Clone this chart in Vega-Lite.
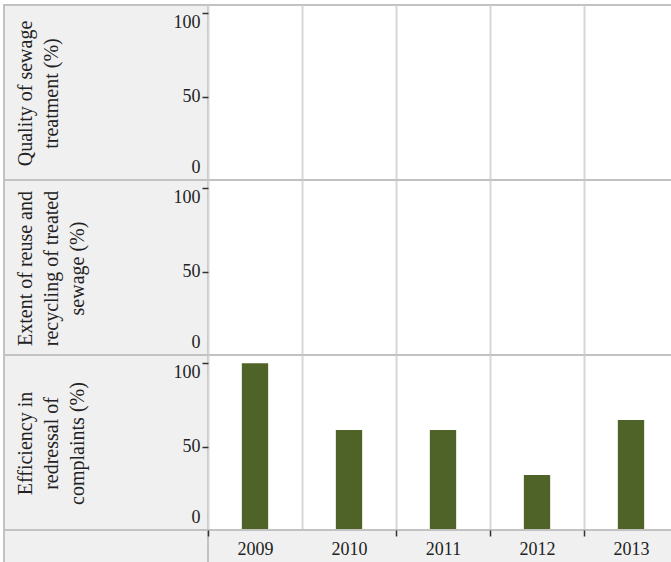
{
  "$schema": "https://vega.github.io/schema/vega-lite/v6.json",
  "background": "white",
  "padding": {"left": 3, "top": 4, "right": 0, "bottom": 0},
  "config": {
    "font": "Liberation Serif",
    "axis": {"labelFont": "Liberation Serif", "titleFont": "Liberation Serif"},
    "axisY": {
      "labelBaseline": {"condition": [{"test": "datum.value === 100", "value": "top"}, {"test": "datum.value === 0", "value": "bottom"}], "value": "middle"},
      "labelOffset": {"condition": {"test": "datum.value === 0", "value": -4}, "value": 0}
    }
  },
  "datasets": {
    "sewage": [
      {"Indicator": "Quality of sewage treatment (%)", "Year": "2009", "Value": null},
      {"Indicator": "Quality of sewage treatment (%)", "Year": "2010", "Value": null},
      {"Indicator": "Quality of sewage treatment (%)", "Year": "2011", "Value": null},
      {"Indicator": "Quality of sewage treatment (%)", "Year": "2012", "Value": null},
      {"Indicator": "Quality of sewage treatment (%)", "Year": "2013", "Value": null},
      {"Indicator": "Extent of reuse and recycling of treated sewage (%)", "Year": "2009", "Value": null},
      {"Indicator": "Extent of reuse and recycling of treated sewage (%)", "Year": "2010", "Value": null},
      {"Indicator": "Extent of reuse and recycling of treated sewage (%)", "Year": "2011", "Value": null},
      {"Indicator": "Extent of reuse and recycling of treated sewage (%)", "Year": "2012", "Value": null},
      {"Indicator": "Extent of reuse and recycling of treated sewage (%)", "Year": "2013", "Value": null},
      {"Indicator": "Efficiency in redressal of complaints (%)", "Year": "2009", "Value": 100},
      {"Indicator": "Efficiency in redressal of complaints (%)", "Year": "2010", "Value": 60},
      {"Indicator": "Efficiency in redressal of complaints (%)", "Year": "2011", "Value": 60},
      {"Indicator": "Efficiency in redressal of complaints (%)", "Year": "2012", "Value": 33},
      {"Indicator": "Efficiency in redressal of complaints (%)", "Year": "2013", "Value": 66}
    ]
  },
  "columns": 2,
  "spacing": 0,
  "bounds": "flush",
  "concat": [
    {
      "width": 204, "height": 175,
      "data": {"values": [{}]},
      "mark": {"type": "text"},
      "encoding": {"text": {"value": ""}},
      "view": {"fill": "#f0f0f0", "stroke": "#c2c2c2", "strokeWidth": 2}
    },
    {
      "width": 470, "height": 175,
      "data": {"name": "sewage"},
      "transform": [{"filter": "datum.Indicator === 'Quality of sewage treatment (%)'"}],
      "mark": {"type": "bar", "color": "#4f6228", "width": {"band": 0.28}},
      "encoding": {
        "x": {"field": "Year", "type": "ordinal",
          "scale": {"domain": ["2009", "2010", "2011", "2012", "2013"], "paddingInner": 0, "paddingOuter": 0},
          "axis": {"labels": false, "ticks": false, "domain": false, "grid": true, "tickBand": "extent", "gridColor": "#d6d6d6", "gridWidth": 2, "title": null}},
        "y": {"field": "Value", "type": "quantitative",
          "scale": {"domain": [0, 105], "nice": false},
          "axis": {"values": [0, 50, 100], "grid": false, "domain": false, "labelFlush": true,
            "tickColor": "#333", "tickSize": 6, "tickWidth": 1.5, "labelPadding": 2,
            "labelFontSize": 18, "labelColor": "#222",
            "title": ["Quality of sewage", "treatment (%)"],
            "titleX": -193, "titleY": 88, "titleAlign": "center", "titleBaseline": "top", "titleAngle": -90,
            "titleFontSize": 20, "titleFontWeight": "normal", "titleColor": "#222", "titleLineHeight": 26}}
      },
      "view": {"fill": "white", "stroke": "#c2c2c2", "strokeWidth": 2}
    },
    {
      "width": 204, "height": 175,
      "data": {"values": [{}]},
      "mark": {"type": "text"},
      "encoding": {"text": {"value": ""}},
      "view": {"fill": "#f0f0f0", "stroke": "#c2c2c2", "strokeWidth": 2}
    },
    {
      "width": 470, "height": 175,
      "data": {"name": "sewage"},
      "transform": [{"filter": "datum.Indicator === 'Extent of reuse and recycling of treated sewage (%)'"}],
      "mark": {"type": "bar", "color": "#4f6228", "width": {"band": 0.28}},
      "encoding": {
        "x": {"field": "Year", "type": "ordinal",
          "scale": {"domain": ["2009", "2010", "2011", "2012", "2013"], "paddingInner": 0, "paddingOuter": 0},
          "axis": {"labels": false, "ticks": false, "domain": false, "grid": true, "tickBand": "extent", "gridColor": "#d6d6d6", "gridWidth": 2, "title": null}},
        "y": {"field": "Value", "type": "quantitative",
          "scale": {"domain": [0, 105], "nice": false},
          "axis": {"values": [0, 50, 100], "grid": false, "domain": false, "labelFlush": true,
            "tickColor": "#333", "tickSize": 6, "tickWidth": 1.5, "labelPadding": 2,
            "labelFontSize": 18, "labelColor": "#222",
            "title": ["Extent of reuse and", "recycling of treated", "sewage (%)"],
            "titleX": -193, "titleY": 88, "titleAlign": "center", "titleBaseline": "top", "titleAngle": -90,
            "titleFontSize": 20, "titleFontWeight": "normal", "titleColor": "#222", "titleLineHeight": 26}}
      },
      "view": {"fill": "white", "stroke": "#c2c2c2", "strokeWidth": 2}
    },
    {
      "width": 204, "height": 175,
      "data": {"values": [{}]},
      "mark": {"type": "text"},
      "encoding": {"text": {"value": ""}},
      "view": {"fill": "#f0f0f0", "stroke": "#c2c2c2", "strokeWidth": 2}
    },
    {
      "width": 470, "height": 175,
      "data": {"name": "sewage"},
      "transform": [{"filter": "datum.Indicator === 'Efficiency in redressal of complaints (%)'"}],
      "mark": {"type": "bar", "color": "#4f6228", "width": {"band": 0.28}},
      "encoding": {
        "x": {"field": "Year", "type": "ordinal",
          "scale": {"domain": ["2009", "2010", "2011", "2012", "2013"], "paddingInner": 0, "paddingOuter": 0},
          "axis": {"labels": false, "ticks": false, "domain": false, "grid": true, "tickBand": "extent", "gridColor": "#d6d6d6", "gridWidth": 2, "title": null}},
        "y": {"field": "Value", "type": "quantitative",
          "scale": {"domain": [0, 105], "nice": false},
          "axis": {"values": [0, 50, 100], "grid": false, "domain": false, "labelFlush": true,
            "tickColor": "#333", "tickSize": 6, "tickWidth": 1.5, "labelPadding": 2,
            "labelFontSize": 18, "labelColor": "#222",
            "title": ["Efficiency in", "redressal of", "complaints (%)"],
            "titleX": -193, "titleY": 88, "titleAlign": "center", "titleBaseline": "top", "titleAngle": -90,
            "titleFontSize": 20, "titleFontWeight": "normal", "titleColor": "#222", "titleLineHeight": 26}}
      },
      "view": {"fill": "white", "stroke": "#c2c2c2", "strokeWidth": 2}
    },
    {
      "width": 204, "height": 33,
      "data": {"values": [{}]},
      "mark": {"type": "text"},
      "encoding": {"text": {"value": ""}},
      "view": {"fill": "#f0f0f0", "stroke": "#c2c2c2", "strokeWidth": 2}
    },
    {
      "width": 470, "height": 33,
      "data": {"name": "sewage"},
      "mark": {"type": "bar", "opacity": 0},
      "encoding": {
        "x": {"field": "Year", "type": "ordinal",
          "scale": {"domain": ["2009", "2010", "2011", "2012", "2013"], "paddingInner": 0, "paddingOuter": 0},
          "axis": {"orient": "bottom", "offset": -33, "domain": false, "grid": false, "tickBand": "extent",
            "tickColor": {"condition": {"test": "datum.value === '2009'", "value": "transparent"}, "value": "#333"},
            "tickSize": 6, "tickWidth": 1.5, "labelPadding": 4, "labelAngle": 0,
            "labelFontSize": 18, "labelColor": "#222", "title": null}}
      },
      "view": {"fill": "#f0f0f0", "stroke": "#c2c2c2", "strokeWidth": 2}
    }
  ]
}
